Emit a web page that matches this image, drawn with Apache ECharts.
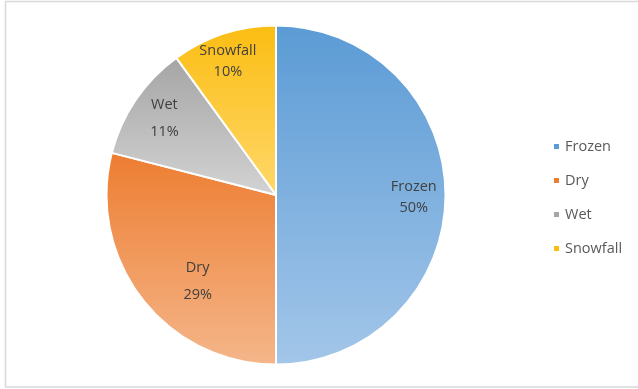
<!DOCTYPE html>
<html>
<head>
<meta charset="utf-8">
<script src="https://cdn.jsdelivr.net/npm/echarts@6/dist/echarts.min.js"></script>
<style>
html,body{margin:0;padding:0;background:#fff;}
#chart{width:638px;height:389px;}
</style>
</head>
<body>
<div id="chart"></div>
<script>
var categories = ['Frozen', 'Dry', 'Wet', 'Snowfall'];
var values = [50, 29, 11, 10];
var topColors = ['#5b9bd5', '#ed7d31', '#a5a5a5', '#fbbd12'];
var bottomColors = ['#a3c6e9', '#f5b68a', '#d3d3d3', '#ffd86b'];
var labelOffsets = [[50, 2], [-9, 33], [-39, -27], [-21, -50]];
var labelLineHeights = [21, 27, 27, 21];

var chart = echarts.init(document.getElementById('chart'));
var data = categories.map(function (c, i) {
  return {
    name: c,
    value: values[i],
    itemStyle: {
      color: new echarts.graphic.LinearGradient(0, 0, 0, 1, [
        { offset: 0, color: topColors[i] },
        { offset: 1, color: bottomColors[i] }
      ])
    },
    label: { offset: labelOffsets[i], lineHeight: labelLineHeights[i] }
  };
});
chart.setOption({
  animation: false,
  graphic: [{
    type: 'rect',
    shape: { x: 5.5, y: 1.5, width: 640, height: 385.5 },
    style: { fill: 'none', stroke: '#d9d9d9', lineWidth: 1.5 }
  }],
  legend: {
    orient: 'vertical',
    left: 547,
    top: 134,
    itemWidth: 7,
    itemHeight: 7,
    itemGap: 19,
    icon: 'rect',
    textStyle: { fontFamily: 'Open Sans', fontSize: 14.5, color: '#595959', padding: [0, 0, 0, 0] },
    data: categories.map(function (c, i) { return { name: c, itemStyle: { color: topColors[i] } }; })
  },
  series: [{
    type: 'pie',
    center: [276, 195],
    radius: [0, 169.5],
    startAngle: 90,
    clockwise: true,
    itemStyle: { borderColor: '#ffffff', borderWidth: 2 },
    label: {
      show: true,
      position: 'inside',
      formatter: '{b}\n{d}%',
      fontFamily: 'Open Sans',
      fontSize: 14.5,
      color: '#404040'
    },
    labelLine: { show: false },
    emphasis: { disabled: true },
    data: data
  }]
});
</script>
</body>
</html>
